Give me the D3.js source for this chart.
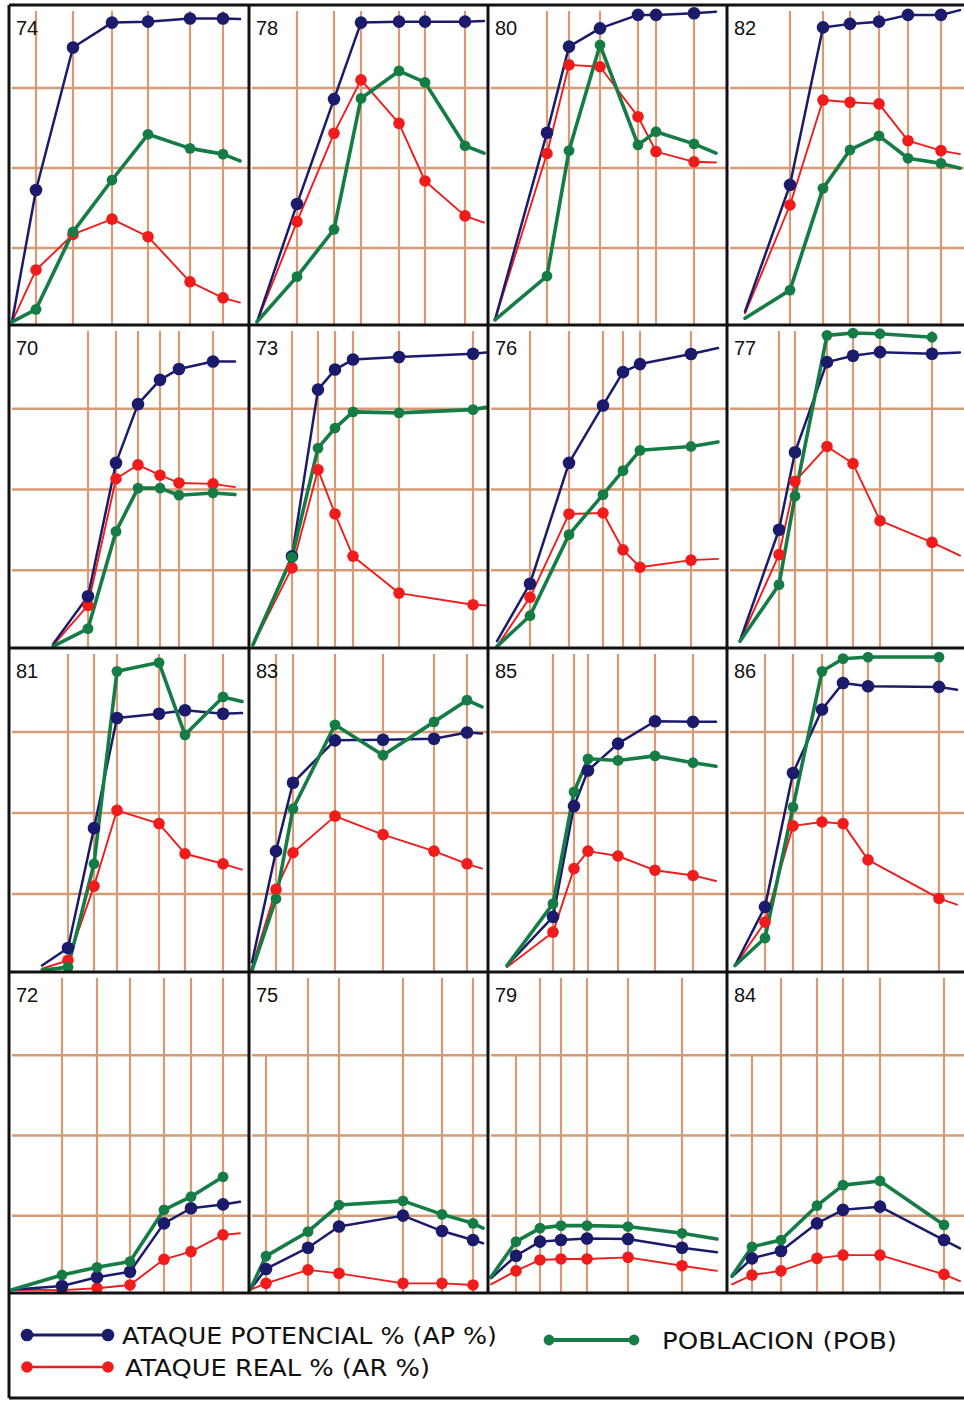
<!DOCTYPE html>
<html><head><meta charset="utf-8">
<script src="https://cdn.jsdelivr.net/npm/d3@7"></script>
<style>html,body{margin:0;padding:0;background:#fff;} svg{display:block;}</style>
</head><body>
<svg id="chart" width="964" height="1401"></svg>
<script>
// ---- data ----
const panelLabels = ["74","78","80","82","70","73","76","77","81","83","85","86","72","75","79","84"];
// sampling days per panel: start, six sampling dates, end of curve
const sampleDays = [
  [3,27,64,103,139,181,214,231],
  [8,48,85,112,150,176,216,235],
  [7,59,81,112,150,168,206,228],
  [18,63,96,123,152,181,214,233],
  [44,79,107,129,151,170,204,226],
  [4,43,69,86,104,150,224,237],
  [9,42,81,115,135,152,203,230],
  [13,52,68,100,126,153,205,233],
  [33,59,85,108,150,176,214,233],
  [3,27,44,86,134,185,218,233],
  [19,65,86,100,130,167,205,228],
  [8,38,66,95,116,141,212,230],
  [3,53,88,121,155,182,214,231],
  [1,17,59,90,154,193,224,234],
  [3,28,52,73,99,140,194,229],
  [5,25,54,90,116,153,217,233]
];
// ATAQUE POTENCIAL % (AP %)
const apValues = [
  [1,42.2,86.7,94.5,94.8,95.8,95.8,95.6],
  [1,37.8,70.6,94.5,94.8,94.8,94.8,95.0],
  [1.6,60.1,87.0,92.7,96.9,96.9,97.4,97.9],
  [4.2,43.8,93.0,94.1,94.8,96.9,96.9,98.4],
  [1.2,16.0,57.3,75.5,83.0,86.4,88.7,88.7],
  [1,28.4,80.0,86.2,89.3,90.1,91.1,91.5],
  [2.1,19.9,57.3,75.1,85.4,87.9,91.0,92.9],
  [2.3,36.6,60.6,88.5,90.5,91.6,91.1,91.5],
  [2,7.4,44.4,78.4,79.7,80.8,79.7,79.9],
  [3,37.3,58.4,71.5,71.7,72.0,73.9,73.6],
  [2,17.0,51.2,62.2,70.5,77.4,77.2,77.2],
  [2,20.1,61.4,81.0,89.2,88.2,88.0,87.1],
  [1,2.2,4.9,6.6,21.7,26.4,27.6,28.4],
  [1,7.5,14.1,20.7,24.1,19.3,16.5,15.5],
  [4.6,11.6,16.0,16.5,17.0,16.8,14.1,12.7],
  [5,10.8,13.1,21.7,25.9,26.9,16.5,13.9]
];
// ATAQUE REAL % (AR %)
const arValues = [
  [1,17.2,28.3,33.1,27.6,13.5,8.5,7.0],
  [1,32.3,59.9,76.6,63.0,45.0,34.1,32.0],
  [1.6,53.6,81.3,80.7,65.1,54.2,51.0,50.8],
  [3.6,37.5,70.3,69.6,69.1,57.6,54.5,53.4],
  [0.8,13.2,52.4,56.7,53.5,51.1,50.8,49.8],
  [1,24.8,55.2,41.5,28.4,17.0,13.4,13.2],
  [0.5,15.7,41.5,41.8,30.4,25.0,27.2,27.6],
  [2.1,28.9,51.6,62.4,57.1,39.4,32.7,28.6],
  [1,3.6,26.5,49.9,45.8,36.5,33.4,31.6],
  [1.5,25.5,36.8,48.1,42.4,37.3,33.4,31.9],
  [1.5,12.3,31.9,37.3,35.8,31.4,29.8,28.1],
  [2,15.4,45.1,46.3,45.8,34.6,22.7,20.8],
  [1,0.9,1.5,2.5,10.5,12.9,18.1,18.6],
  [1,3.0,7.2,6.1,3.0,3.0,2.5,null],
  [2.7,6.9,10.3,10.6,10.6,11.1,8.5,6.9],
  [2.7,5.6,6.9,10.8,11.8,11.8,5.8,3.7]
];
// POBLACION (POB)
const pobValues = [
  [1,4.9,29.1,45.3,59.6,55.2,53.4,51.3],
  [1,15.1,29.9,70.8,79.4,75.8,56.0,53.7],
  [1.6,15.3,54.5,87.5,56.3,60.4,56.6,53.7],
  [2.1,10.9,42.7,54.7,59.1,52.1,50.5,49.0],
  [0.5,6.0,36.1,49.5,49.5,47.3,48.0,47.5],
  [1,28.1,61.9,68.1,73.1,72.8,73.8,74.5],
  [0.5,10.0,35.1,47.5,54.9,61.2,62.4,63.8],
  [2.1,19.6,47.0,96.8,97.5,97.3,96.2,null],
  [0.5,1.5,33.4,92.8,95.5,73.2,84.9,83.5],
  [0.5,22.6,50.4,76.3,66.9,77.2,83.9,81.8],
  [2,21.1,55.6,65.8,65.3,66.7,64.6,63.5],
  [2,10.5,50.9,92.8,96.7,97.2,97.2,null],
  [1,5.6,8.0,9.8,25.9,30.0,36.2,null],
  [1,11.5,19.1,27.4,28.7,24.5,21.7,20.2],
  [5,16.0,20.2,21.0,21.0,20.7,18.6,16.8],
  [5.3,14.4,16.5,27.2,33.6,34.9,21.2,null]
];
const gridLevels = [25, 50, 75];
const shortFirstGrid = ["75","79","84"];
const legendLabels = ["ATAQUE POTENCIAL % (AP %)", "ATAQUE REAL % (AR %)", "POBLACION (POB)"];

// ---- layout ----
const colX = [9, 249, 488, 727, 966];
const rowY = [5, 325, 648, 972, 1293];
const legendBottom = 1398;
const gridColor = "#d69b74";
const gridShift = 3; // printed quarter lines sit slightly low
const series = [
  {key:"ar",  values: arValues,  color:"#f01c1c", width:1.9, r:5.8},
  {key:"ap",  values: apValues,  color:"#1b1a6b", width:2.5, r:6.3},
  {key:"pob", values: pobValues, color:"#167c46", width:3.6, r:5.4}
];

const svg = d3.select("#chart");
const defs = svg.append("defs");

panelLabels.forEach((label, i) => {
  const c = i % 4, r = Math.floor(i / 4);
  const x0 = colX[c], x1 = colX[c + 1], y0 = rowY[r], y1 = rowY[r + 1];
  const x = d3.scaleLinear().domain([0, 239]).range([x0, x0 + 239]);
  const y = d3.scaleLinear().domain([0, 100]).range([y1, y0]);
  const days = sampleDays[i];

  defs.append("clipPath").attr("id", "clip" + i)
    .append("rect").attr("x", x0).attr("y", y0).attr("width", x1 - x0).attr("height", y1 - y0);

  const g = svg.append("g").attr("clip-path", `url(#clip${i})`);

  g.selectAll("line.h").data(gridLevels).join("line")
    .attr("x1", x0 + 3).attr("x2", x1)
    .attr("y1", d => y(d) + gridShift).attr("y2", d => y(d) + gridShift)
    .attr("stroke", gridColor).attr("stroke-width", 2.6);
  const marked = days.slice(1, days.length - 1);
  g.selectAll("line.v").data(marked).join("line")
    .attr("x1", d => x(d)).attr("x2", d => x(d))
    .attr("y1", (d, k) => (k === 0 && shortFirstGrid.includes(label)) ? y(75) + gridShift : y0 + 6)
    .attr("y2", y1)
    .attr("stroke", gridColor).attr("stroke-width", 2.2);

  series.forEach(s => {
    const pts = days.map((d, k) => ({d, v: s.values[i][k]}));
    const line = d3.line().defined(p => p.v != null).x(p => x(p.d)).y(p => y(p.v));
    g.append("path").datum(pts).attr("d", line)
      .attr("fill", "none").attr("stroke", s.color).attr("stroke-width", s.width)
      .attr("stroke-linejoin", "round").attr("stroke-linecap", "round");
  });
  series.forEach(s => {
    const pts = days.map((d, k) => ({d, v: s.values[i][k], k}))
      .filter(p => p.k > 0 && p.k < days.length - 1 && p.v != null);
    g.selectAll("circle." + s.key).data(pts).join("circle")
      .attr("cx", p => x(p.d)).attr("cy", p => y(p.v)).attr("r", s.r)
      .attr("fill", s.color);
  });

  svg.append("text").attr("x", x0 + 7).attr("y", y0 + 30)
    .attr("font-family", "Liberation Sans, Arial, sans-serif").attr("font-size", 20)
    .attr("fill", "#111").text(label);
});

const border = svg.append("g").attr("stroke", "#111").attr("stroke-width", 3).attr("fill", "none");
colX.forEach(cx => border.append("line").attr("x1", cx).attr("x2", cx).attr("y1", rowY[0]).attr("y2", rowY[4]));
rowY.forEach(ry => border.append("line").attr("x1", colX[0]).attr("x2", colX[4]).attr("y1", ry).attr("y2", ry));
border.append("line").attr("x1", colX[0]).attr("x2", colX[0]).attr("y1", rowY[4]).attr("y2", legendBottom);
border.append("line").attr("x1", colX[4]).attr("x2", colX[4]).attr("y1", rowY[4]).attr("y2", legendBottom);
border.append("line").attr("x1", colX[0]).attr("x2", colX[4]).attr("y1", legendBottom).attr("y2", legendBottom);

const legendItems = [
  {s: series[1], lx1: 27, lx2: 108, ly: 1335, tx: 122, tl: 375, text: legendLabels[0]},
  {s: series[0], lx1: 27, lx2: 108, ly: 1367, tx: 125, tl: 305, text: legendLabels[1]},
  {s: series[2], lx1: 549, lx2: 634, ly: 1340, tx: 662, tl: 235, text: legendLabels[2]}
];
legendItems.forEach(it => {
  svg.append("line").attr("x1", it.lx1).attr("x2", it.lx2).attr("y1", it.ly).attr("y2", it.ly)
    .attr("stroke", it.s.color).attr("stroke-width", it.s.width + 0.6);
  [it.lx1, it.lx2].forEach(px => svg.append("circle").attr("cx", px).attr("cy", it.ly)
    .attr("r", it.s.r).attr("fill", it.s.color));
  svg.append("text").attr("x", it.tx).attr("y", it.ly + 8.5)
    .attr("font-family", "DejaVu Sans, sans-serif").attr("font-size", 23)
    .attr("textLength", it.tl).attr("lengthAdjust", "spacingAndGlyphs")
    .attr("fill", "#111").text(it.text);
});
</script>
</body></html>
